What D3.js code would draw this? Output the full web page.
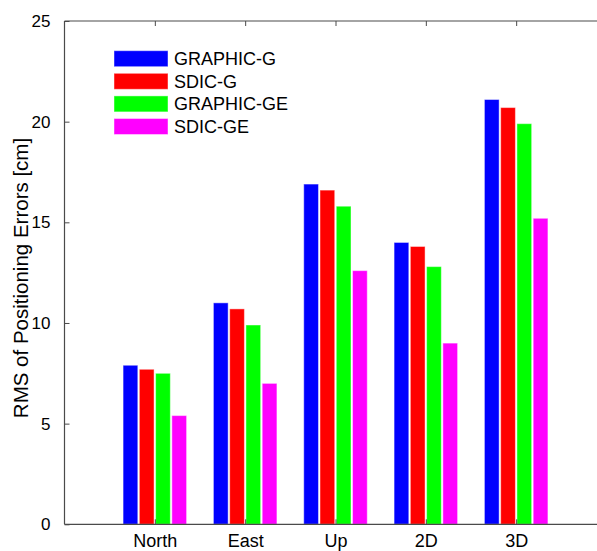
<!DOCTYPE html>
<html>
<head>
<meta charset="utf-8">
<script src="https://cdn.jsdelivr.net/npm/d3@7"></script>
<style>
  html, body { margin: 0; padding: 0; background: #fff; }
  svg { display: block; font-family: "Liberation Sans", Arial, Helvetica, sans-serif; }
</style>
</head>
<body>
<div id="chart"></div>
<script>
// Positioning error summary per component
const categories = ["North", "East", "Up", "2D", "3D"];
const seriesNames = ["GRAPHIC-G", "SDIC-G", "GRAPHIC-GE", "SDIC-GE"];
const seriesColors = ["#0000ff", "#ff0000", "#00ff00", "#ff00ff"];
const graphicG  = [7.9, 11.0, 16.9, 14.0, 21.1];
const sdicG     = [7.7, 10.7, 16.6, 13.8, 20.7];
const graphicGE = [7.5,  9.9, 15.8, 12.8, 19.9];
const sdicGE    = [5.4,  7.0, 12.6,  9.0, 15.2];
const yTicks = [0, 5, 10, 15, 20, 25];

const series = [graphicG, sdicG, graphicGE, sdicGE];

const W = 597, H = 551;
const svg = d3.select("#chart").append("svg")
  .attr("width", W).attr("height", H);

// Axes box: x runs from 0 to 6 (groups at 1..5), y from 0 to 25
const x = d3.scaleLinear().domain([0, 6]).range([64.5, 606.5]);
const y = d3.scaleLinear().domain([0, 25]).range([524.3, 21]);

const barStep = 0.18;   // spacing between bars within a group, x units
const barWidth = 0.163; // bar width, x units

const axisColor = "#4a4a4a";

// Bars
series.forEach((vals, si) => {
  const off = (si - 1.5) * barStep;
  svg.append("g")
    .selectAll("rect")
    .data(vals)
    .join("rect")
    .attr("x", (d, i) => x(i + 1 + off - barWidth / 2))
    .attr("width", (d, i) => x(i + 1 + off + barWidth / 2) - x(i + 1 + off - barWidth / 2))
    .attr("y", d => y(d))
    .attr("height", d => y(0) - y(d))
    .attr("fill", seriesColors[si])
    .attr("stroke", "rgba(255,255,255,0.45)")
    .attr("stroke-width", 1);
});

// Left axis with inward ticks
const yAxis = d3.axisLeft(y).tickValues(yTicks).tickSize(-5).tickPadding(14).tickFormat(d3.format("d"));
const gy = svg.append("g").attr("transform", `translate(${x(0)},0)`).call(yAxis);
gy.select(".domain").remove();
gy.selectAll(".tick line").attr("stroke", axisColor);
gy.selectAll(".tick text").attr("font-size", 17).attr("fill", "#000");

// Bottom axis with inward ticks
const xAxis = d3.axisBottom(x).tickValues([1, 2, 3, 4, 5]).tickSize(-5).tickPadding(10)
  .tickFormat(d => categories[d - 1]);
const gx = svg.append("g").attr("transform", `translate(0,${y(0)})`).call(xAxis);
gx.select(".domain").remove();
gx.selectAll(".tick line").attr("stroke", axisColor);
gx.selectAll(".tick text").attr("font-size", 18).attr("fill", "#000");

// Top axis: ticks only, pointing inward
const topAxis = d3.axisTop(x).tickValues([1, 2, 3, 4, 5]).tickSize(-5).tickFormat("");
const gt = svg.append("g").attr("transform", `translate(0,${y(25)})`).call(topAxis);
gt.select(".domain").remove();
gt.selectAll(".tick line").attr("stroke", axisColor);

// Box lines
svg.append("line")
  .attr("x1", x(0)).attr("x2", x(0)).attr("y1", y(0)).attr("y2", y(25))
  .attr("stroke", axisColor).attr("stroke-width", 1.2);
svg.append("line")
  .attr("x1", x(0)).attr("x2", W).attr("y1", y(0)).attr("y2", y(0))
  .attr("stroke", axisColor).attr("stroke-width", 1.2);
svg.append("line")
  .attr("x1", x(0)).attr("x2", W).attr("y1", y(25)).attr("y2", y(25))
  .attr("stroke", axisColor).attr("stroke-width", 1.2);

// Y axis title
svg.append("text")
  .attr("transform", `translate(27.5,278) rotate(-90)`)
  .attr("text-anchor", "middle")
  .attr("font-size", 20.5)
  .attr("fill", "#000")
  .text("RMS of Positioning Errors [cm]");

// Legend
const legend = svg.append("g").attr("transform", "translate(114,50.7)");
seriesNames.forEach((name, i) => {
  const row = legend.append("g").attr("transform", `translate(0,${i * 22.6})`);
  row.append("rect")
    .attr("width", 54).attr("height", 16)
    .attr("fill", seriesColors[i])
    .attr("stroke", "rgba(255,255,255,0.45)").attr("stroke-width", 1);
  row.append("text")
    .attr("x", 60).attr("y", 8).attr("dy", "0.36em")
    .attr("font-size", 18).attr("fill", "#000")
    .text(name);
});
</script>
</body>
</html>
